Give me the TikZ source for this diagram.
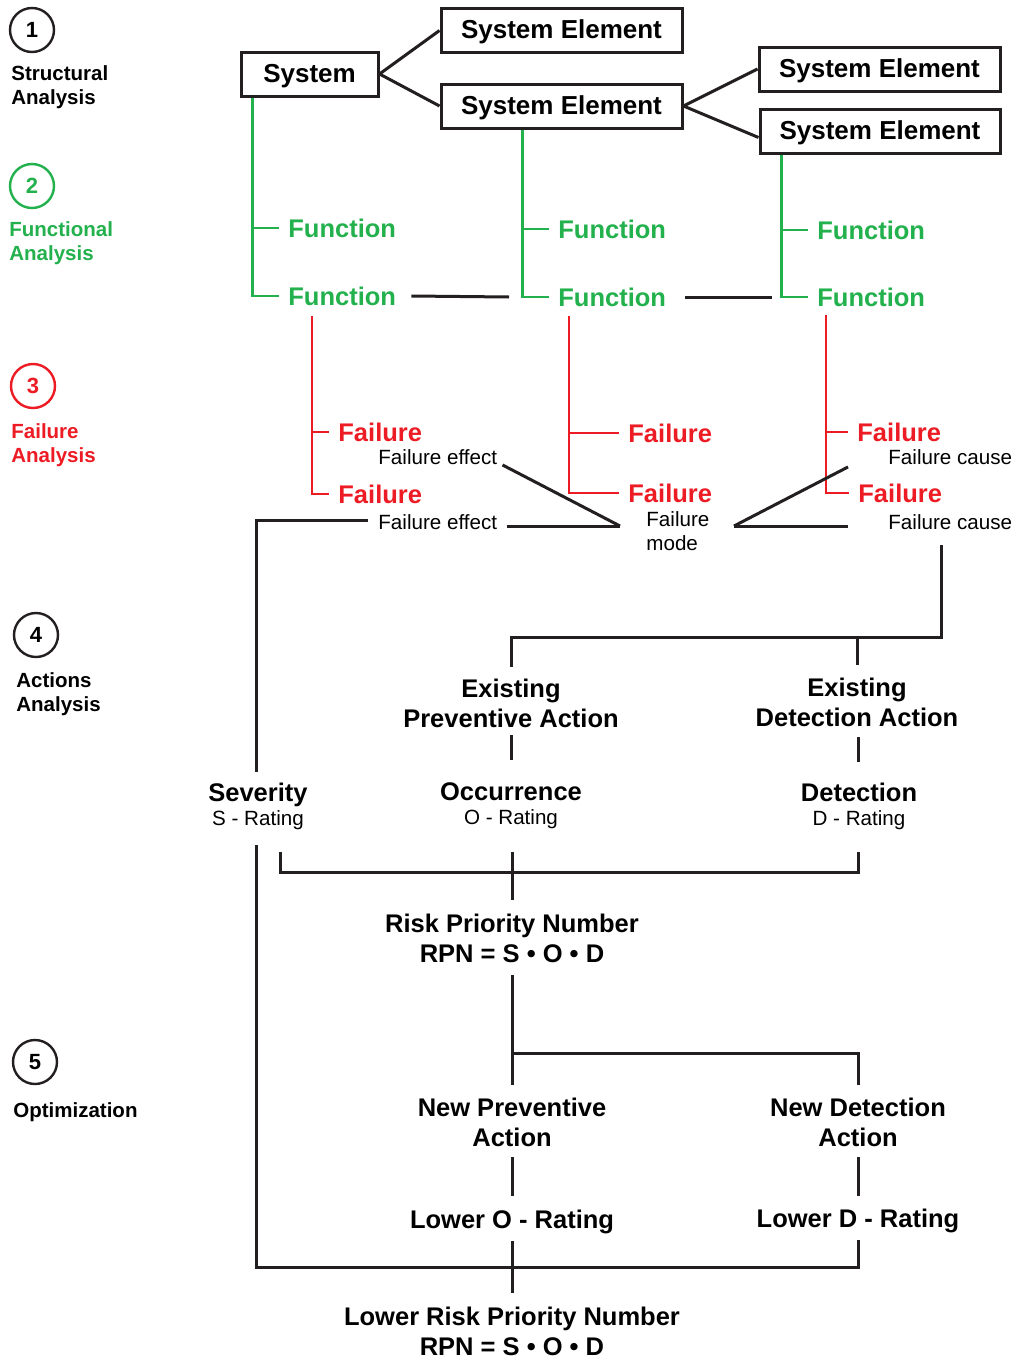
\documentclass[tikz,border=0pt]{standalone}
\usepackage{fontspec}
\setmainfont{Liberation Sans}
\usepackage{tikz}
\usetikzlibrary{positioning, calc}

\definecolor{fgreen}{RGB}{34,177,76}
\definecolor{fred}{RGB}{237,28,36}
\definecolor{ink}{RGB}{35,31,32}

\begin{document}
\begin{tikzpicture}[
      x=0.5pt, y=-0.5pt,
      stage/.style={circle, draw=ink, line width=1.2pt, minimum size=22pt, inner sep=0pt, font=\fontsize{11}{13}\selectfont\bfseries},
      stage_lbl/.style={anchor=base west, align=left, inner sep=0pt, font=\fontsize{10.25}{12}\selectfont\bfseries},
      sys_box/.style={draw=ink, line width=1.5pt, minimum height=22pt, inner sep=0pt, text height=8pt, text depth=0pt, font=\fontsize{13}{15}\selectfont\bfseries},
      func_lbl/.style={anchor=west, inner xsep=4.5pt, inner ysep=0pt, text=fgreen, font=\fontsize{12.75}{15}\selectfont\bfseries},
      fail_lbl/.style={func_lbl, text=fred},
      note_lbl/.style={inner sep=0pt, font=\fontsize{10.3}{12}\selectfont},
      act_lbl/.style={anchor=base, align=center, inner sep=0pt, font=\fontsize{12.75}{15}\selectfont\bfseries},
      link/.style={line width=1.5pt, ink},
      g_link/.style={line width=1.35pt, fgreen},
      r_link/.style={line width=1.35pt, fred}
    ]
      \path[use as bounding box, fill=white] (0,0) rectangle (1022,1360);

      % steps down the left side (multi-line labels sit on their last baseline)
      \node[stage] (s1) at (32,30) {1};
      \node[stage_lbl] (s1_lbl) at (11,104) {Structural\\Analysis};
      \node[stage, draw=fgreen, text=fgreen] (s2) at (32,186) {2};
      \node[stage_lbl, text=fgreen] (s2_lbl) at (9,260) {Functional\\Analysis};
      \node[stage, draw=fred, text=fred] (s3) at (33,386) {3};
      \node[stage_lbl, text=fred] (s3_lbl) at (11,462) {Failure\\Analysis};
      \node[stage] (s4) at (36,635) {4};
      \node[stage_lbl] (s4_lbl) at (16,711) {Actions\\Analysis};
      \node[stage] (s5) at (35,1062) {5};
      \node[stage_lbl] (s5_lbl) at (13,1117) {Optimization};

      % structure tree
      \node[sys_box, minimum width=68.5pt] (sys) at (309.5,74) {System};
      \node[sys_box, minimum width=120.5pt] (se1) at (561.5,30.5) {System Element};
      \node[sys_box, minimum width=120.5pt] (se2) at (561.5,106) {System Element};
      \node[sys_box, minimum width=120.5pt] (se3) at (879.5,69) {System Element};
      \node[sys_box, minimum width=120pt] (se4) at (880,131.5) {System Element};

      \draw[link] (sys.east) -- (se1.west);
      \draw[link] (sys.east) -- (se2.west);
      \draw[link] (se2.east) -- (se3.west);
      \draw[link] (se2.east) -- ([yshift=-3pt]se4.west);

      % functions
      \node[func_lbl] (f11) at (279,228) {Function};
      \node[func_lbl] (f12) at (279,296) {Function};
      \node[func_lbl] (f21) at (549,229) {Function};
      \node[func_lbl] (f22) at (549,297) {Function};
      \node[func_lbl] (f31) at (808,230) {Function};
      \node[func_lbl] (f32) at (808,297) {Function};

      \coordinate (g1) at ($(sys.south west)+(13,0)$);
      \coordinate (g2) at ($(se2.south west)+(83,0)$);
      \coordinate (g3) at ($(se4.south west)+(23,0)$);
      \draw[g_link] (g1) |- (f12.west);
      \draw[g_link] (g1 |- f11.west) -- (f11.west);
      \draw[g_link] (g2) |- (f22.west);
      \draw[g_link] (g2 |- f21.west) -- (f21.west);
      \draw[g_link] (g3) |- (f32.west);
      \draw[g_link] (g3 |- f31.west) -- (f31.west);

      \draw[link] ([xshift=3pt]f12.east) -- ([xshift=-20pt]f22.west);
      \draw[link] ([xshift=5pt]f22.east) -- ([xshift=-18pt]f32.west);

      % failures
      \node[fail_lbl] (x11) at (329,432) {Failure};
      \node[fail_lbl] (x12) at (329,494) {Failure};
      \node[fail_lbl] (x21) at (619,433) {Failure};
      \node[fail_lbl] (x22) at (619,493) {Failure};
      \node[fail_lbl] (x31) at (848,432) {Failure};
      \node[fail_lbl] (x32) at (849,493) {Failure};

      \coordinate (r1) at ($(f12.south west)+(33,10)$);
      \coordinate (r2) at ($(f22.south west)+(20,9)$);
      \coordinate (r3) at ($(f32.south west)+(18,8)$);
      \draw[r_link] (r1) |- (x12.west);
      \draw[r_link] (r1 |- x11.west) -- (x11.west);
      \draw[r_link] (r2) |- (x22.west);
      \draw[r_link] (r2 |- x21.west) -- (x21.west);
      \draw[r_link] (r3) |- (x32.west);
      \draw[r_link] (r3 |- x31.west) -- (x31.west);

      \node[note_lbl, anchor=west] (eff1) at (378,457) {Failure effect};
      \node[note_lbl, anchor=west] (eff2) at (378,522) {Failure effect};
      \node[note_lbl, align=left, anchor=base west] (mode) at (646,550) {Failure\\mode};
      \node[note_lbl, anchor=west] (cau1) at (888,457) {Failure cause};
      \node[note_lbl, anchor=west] (cau2) at (888,522) {Failure cause};

      \coordinate (apexL) at ($(mode.base west)+(-26,-24)$);
      \coordinate (apexR) at ($(mode.base west)+(88,-24)$);
      \draw[link] ([xshift=2.5pt]eff1.south east) -- (apexL);
      \draw[link] ($(eff2.east |- apexL)+(9,0)$) -- (apexL);
      \draw[link] ($(cau1.south west)+(-40,2)$) -- (apexR);
      \draw[link] ($(cau2.west |- apexR)+(-40,0)$) -- (apexR);

      % actions and ratings
      \node[act_lbl] (epa) at (511,727) {Existing\\Preventive Action};
      \node[act_lbl] (eda) at (857,726) {Existing\\Detection Action};
      \node[act_lbl] (sev) at (258,801) {Severity};
      \node[act_lbl] (occ) at (511,800) {Occurrence};
      \node[act_lbl] (det) at (859,801) {Detection};
      \node[note_lbl, below=12pt of sev.base, anchor=base] (sev_r) {S - Rating};
      \node[note_lbl, below=12pt of occ.base, anchor=base] (occ_r) {O - Rating};
      \node[note_lbl, below=12pt of det.base, anchor=base] (det_r) {D - Rating};
      \node[act_lbl] (rpn) at (512,962) {Risk Priority Number\\RPN = S • O • D};

      \draw[link] ($(eff2.west)+(-10,-2)$) -| ($(sev.base)+(-2,-29)$);
      \draw[link] ($(cau2.base)+(-9,16)$) |- ($(epa.base)+(0,-90)$) -- ($(epa.base)+(0,-60)$);
      \draw[link] ($(eda.base)+(0,-89)$) -- ($(eda.base)+(0,-61)$);
      \draw[link] ($(epa.base)+(0,8)$) -- ($(occ.base)+(0,-40)$);
      \draw[link] ($(eda.base)+(1,11)$) -- ($(det.base)+(-1,-39)$);
      \draw[link] ($(sev_r.base)+(22,27)$) |- ($(det_r.base)+(-1,47)$) -- ($(det_r.base)+(-1,27)$);
      \draw[link] ($(occ_r.base)+(1,28)$) -- ($(rpn.base)+(0,-62)$);

      % optimization
      \node[act_lbl] (npa) at (512,1146) {New Preventive\\Action};
      \node[act_lbl] (nda) at (858,1146) {New Detection\\Action};
      \node[act_lbl] (lor) at (512,1228) {Lower O - Rating};
      \node[act_lbl] (ldr) at (858,1227) {Lower D - Rating};
      \node[act_lbl] (lrpn) at (512,1355) {Lower Risk Priority Number\\RPN = S • O • D};

      \draw[link] ($(rpn.base)+(0,13)$) -- ($(npa.base)+(0,-61)$);
      \draw[link] ($(rpn.base)+(0,91)$) -| ($(nda.base)+(0,-61)$);
      \draw[link] ($(npa.base)+(0,11)$) -- ($(lor.base)+(0,-32)$);
      \draw[link] ($(nda.base)+(0,11)$) -- ($(ldr.base)+(0,-31)$);
      \draw[link] ($(lor.base)+(0,13)$) -- ($(lrpn.base)+(0,-62)$);
      \draw[link] ($(sev_r.base)+(-2,20)$) |- ($(ldr.base)+(0,40)$) -- ($(ldr.base)+(0,13)$);
    \end{tikzpicture}
\end{document}
